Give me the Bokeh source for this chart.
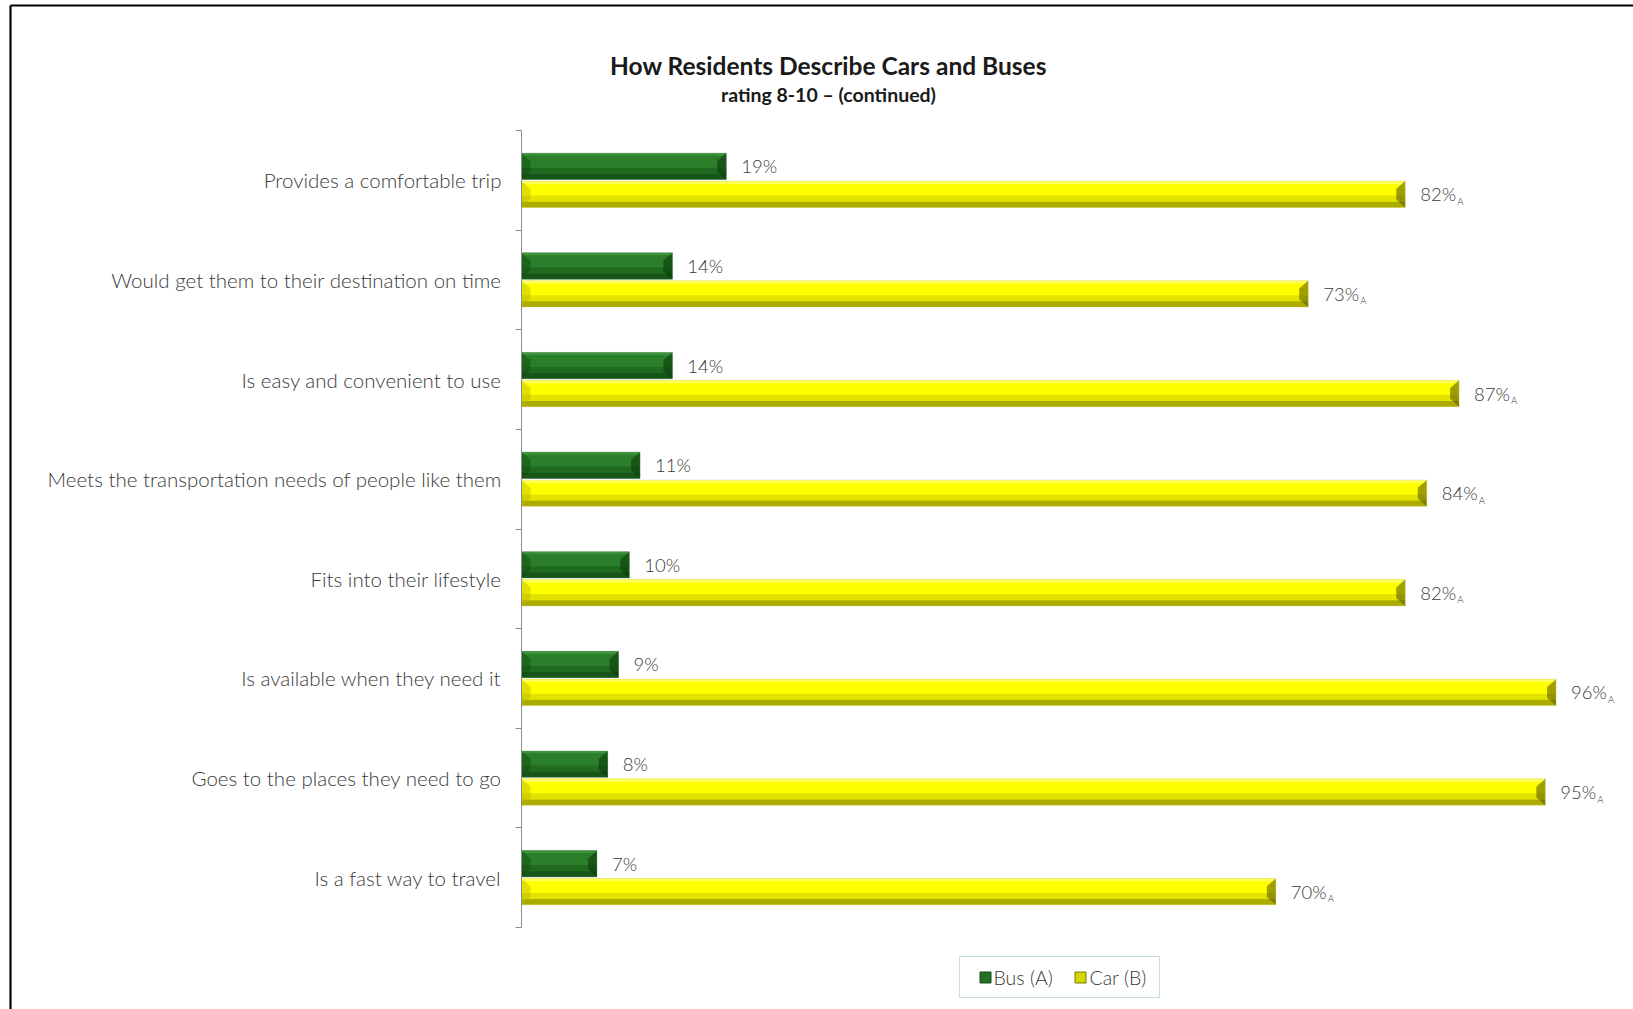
from bokeh.plotting import figure
from bokeh.models import Range1d, FixedTicker
from bokeh.core.properties import value
from bokeh.embed import file_html
from bokeh.resources import INLINE

categories = [
    "Provides a comfortable trip",
    "Would get them to their destination on time",
    "Is easy and convenient to use",
    "Meets the transportation needs of people like them",
    "Fits into their lifestyle",
    "Is available when they need it",
    "Goes to the places they need to go",
    "Is a fast way to travel",
]
bus = [19, 14, 14, 11, 10, 9, 8, 7]
car = [82, 73, 87, 84, 82, 96, 95, 70]
car_sig = ["A"] * 8
series_names = ["Bus (A)", "Car (B)"]
title_text = "How Residents Describe Cars and Buses"
subtitle_text = "rating 8-10 – (continued)"

W, H = 1633, 1009
X0, XR = 521, 2
YT, YB = 130, 927
XMAX = 103.0
n = len(categories)
PXX = (W - X0 - XR) / XMAX
PXY = (YB - YT) / n

def dx(px):
    return (px - X0) / PXX

def dy(py):
    return n - (py - YT) / PXY

centers = [n - i - 0.5 for i in range(n)]
BH = 0.265
bus_y = [c + 0.14 for c in centers]
car_y = [c - 0.14 for c in centers]

LIGHT = "'Lato Light', Lato"
TXT = "#3a3a3a"

p = figure(width=W, height=H, output_backend="svg", toolbar_location=None,
           x_range=Range1d(0, XMAX), y_range=Range1d(0, n),
           min_border_left=X0, min_border_right=XR,
           min_border_top=YT, min_border_bottom=H - YB,
           background_fill_color="white", border_fill_color="white")
p.outline_line_color = None
p.xgrid.visible = False
p.ygrid.visible = False
p.xaxis.visible = False

ax = p.yaxis[0]
ax.ticker = FixedTicker(ticks=centers, minor_ticks=list(range(n + 1)))
ax.major_label_overrides = {c: categories[i] for i, c in enumerate(centers)}
ax.major_tick_out = 0
ax.major_tick_in = 0
ax.minor_tick_out = 6
ax.minor_tick_in = 0
ax.minor_tick_line_color = "#8c8c8c"
ax.axis_line_color = "#8c8c8c"
ax.major_label_standoff = 14
ax.major_label_text_font = LIGHT
ax.major_label_text_font_size = "20.5px"
ax.major_label_text_color = TXT

WEDGE = 9 / PXX  # bevel width at bar ends


def bevel_bar(ys, vals, stripes, left_c, right_c, edge):
    r = p.hbar(y=ys, right=vals, left=0, height=BH, fill_color=stripes[1][2],
               line_color=None)
    for f0, f1, col in stripes:
        p.hbar(y=[y + BH / 2 - (f0 + f1) / 2 * BH for y in ys], right=vals,
               left=0, height=(f1 - f0) * BH, fill_color=col, line_color=None)
    lx, ly, rx, ry = [], [], [], []
    for y, v in zip(ys, vals):
        t, b = y + BH / 2, y - BH / 2
        lx.append([0, WEDGE, WEDGE, 0])
        ly.append([t, y + BH * 0.2, y - BH * 0.2, b])
        rx.append([v, v - WEDGE, v - WEDGE, v])
        ry.append([t, y + BH * 0.2, y - BH * 0.2, b])
    p.patches(xs=lx, ys=ly, fill_color=left_c, fill_alpha=0.45, line_color=None)
    p.patches(xs=rx, ys=ry, fill_color=right_c, fill_alpha=0.6, line_color=None)
    p.hbar(y=ys, right=vals, left=0, height=BH, fill_color=None,
           line_color=edge, line_width=0.6, line_alpha=0.6)
    return r


bevel_bar(bus_y, bus,
          [(0, 0.1, "#3b943b"), (0.1, 0.55, "#2b7f2b"),
           (0.55, 0.78, "#216b21"), (0.78, 1, "#175417")],
          "#0f4a0f", "#0a3a0a", "#6f8f6f")
bevel_bar(car_y, car,
          [(0, 0.12, "#ffff55"), (0.12, 0.55, "#ffff00"),
           (0.55, 0.78, "#e3e300"), (0.78, 1, "#abab00")],
          "#b9b900", "#5f5f00", "#c8c890")

font = value(LIGHT)
p.text(x=bus, y=bus_y, text=[f"{v}%" for v in bus], x_offset=15,
       text_baseline="middle", text_font=font, text_font_size="18.5px",
       text_color=TXT, level="annotation")
p.text(x=car, y=car_y, text=[f"{v}%" for v in car], x_offset=15,
       text_baseline="middle", text_font=font, text_font_size="18.5px",
       text_color=TXT, level="annotation")
p.text(x=car, y=car_y, text=car_sig, x_offset=52, y_offset=7,
       text_baseline="middle", text_font=font, text_font_size="9.5px",
       text_color=TXT, level="annotation")

p.text(x=[dx(828)], y=[dy(65)], text=[title_text], text_align="center",
       text_baseline="middle", text_font=value("Lato"), text_font_size="24.5px",
       text_font_style="bold", text_color="#1a1a1a", level="annotation")
p.text(x=[dx(828)], y=[dy(94)], text=[subtitle_text], text_align="center",
       text_baseline="middle", text_font=value("Lato"), text_font_size="19.5px",
       text_font_style="bold", text_color="#1a1a1a", level="annotation")

# outer chart border
p.segment(x0=[dx(10), dx(10)], y0=[dy(5), dy(5)],
          x1=[dx(10), dx(W + 5)], y1=[dy(H + 5), dy(5)],
          line_color="black", line_width=2.2, level="annotation")

# legend (drawn below the plotting area)
p.quad(left=[dx(959)], right=[dx(1159)], top=[dy(956)], bottom=[dy(997)],
       fill_color="white", line_color="#c5dde6", line_width=1,
       level="annotation")
p.rect(x=[dx(985), dx(1080)], y=[dy(977), dy(977)], width=11, height=11,
       width_units="screen", height_units="screen",
       fill_color=["#236f23", "#d6d600"], line_color=["#174f17", "#7a7a00"],
       line_width=1, level="annotation")
p.text(x=[dx(993), dx(1089)], y=[dy(977), dy(977)], text=series_names,
       text_baseline="middle", text_font=font, text_font_size="19.5px",
       text_color=TXT, level="annotation")

open("out.html", "w").write(file_html(p, INLINE))
